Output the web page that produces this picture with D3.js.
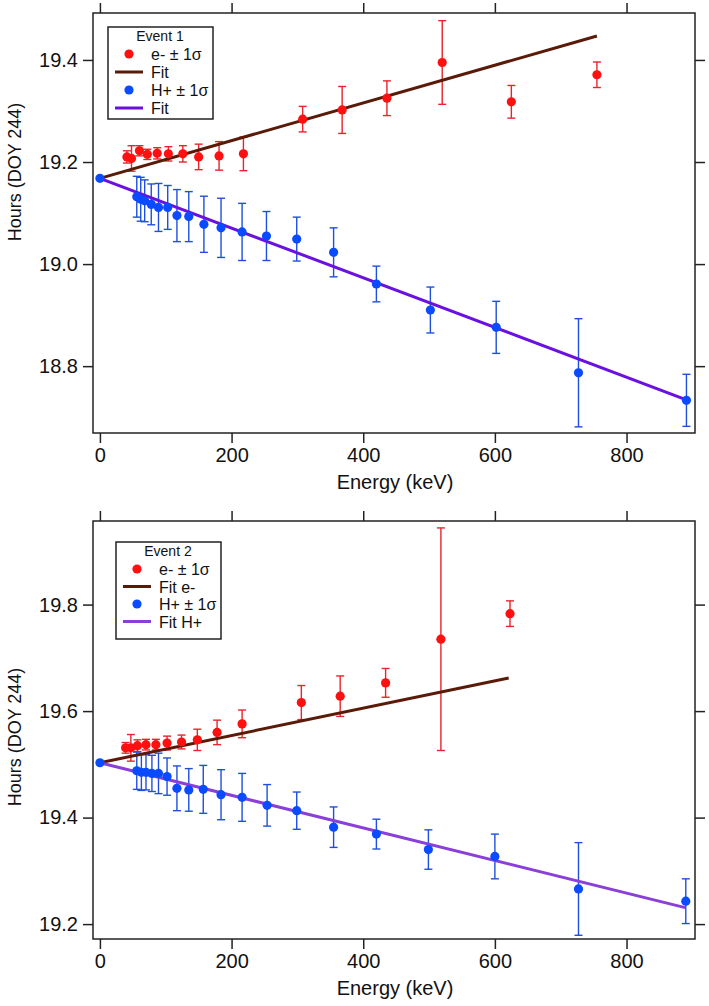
<!DOCTYPE html>
<html>
<head>
<meta charset="utf-8">
<script src="https://cdn.jsdelivr.net/npm/d3@7"></script>
<style>
  body { margin: 0; background: #fff; }
  svg { display: block; font-family: "Liberation Sans", Arial, sans-serif; }
</style>
</head>
<body>
<div id="chart"></div>
<script>
// energy ticks shared by both panels
const xTicks = [0, 200, 400, 600, 800];

// Event 1
const ev1Title = "Event 1";
const ev1ElecEnergy = [41, 48, 60, 72, 87, 104, 126, 150, 181, 218, 308, 368, 436, 520, 625, 755];
const ev1ElecHours = [19.210, 19.207, 19.222, 19.215, 19.217, 19.216, 19.216, 19.210, 19.212, 19.216, 19.284, 19.302, 19.325, 19.395, 19.318, 19.371];
const ev1ElecErr = [0.012, 0.025, 0.010, 0.010, 0.011, 0.014, 0.016, 0.025, 0.028, 0.033, 0.025, 0.046, 0.034, 0.082, 0.032, 0.025];
const ev1ProtEnergy = [0, 56, 62, 68, 78, 89, 103, 117, 135, 158, 184, 216, 253, 299, 355, 420, 502, 602, 727, 891];
const ev1ProtHours = [19.168, 19.132, 19.127, 19.124, 19.117, 19.111, 19.111, 19.095, 19.093, 19.078, 19.071, 19.063, 19.055, 19.049, 19.023, 18.961, 18.910, 18.876, 18.787, 18.733];
const ev1ProtErr = [0, 0.040, 0.043, 0.041, 0.040, 0.047, 0.043, 0.051, 0.049, 0.055, 0.058, 0.056, 0.048, 0.043, 0.048, 0.035, 0.045, 0.051, 0.106, 0.051];
const ev1ElecFitEnergy = [0, 755];
const ev1ElecFitHours = [19.168, 19.447];
const ev1ProtFitEnergy = [0, 893];
const ev1ProtFitHours = [19.168, 18.733];
const ev1YTicks = [18.8, 19.0, 19.2, 19.4];
const ev1Legend = ["e- \u00b1 1\u03c3", "Fit", "H+ \u00b1 1\u03c3", "Fit"];

// Event 2
const ev2Title = "Event 2";
const ev2ElecEnergy = [39, 47, 57, 70, 85, 102, 124, 148, 178, 216, 306, 365, 434, 518, 623];
const ev2ElecHours = [19.531, 19.531, 19.535, 19.537, 19.537, 19.540, 19.542, 19.546, 19.560, 19.576, 19.616, 19.628, 19.653, 19.735, 19.783];
const ev2ElecErr = [0.010, 0.025, 0.011, 0.010, 0.010, 0.013, 0.013, 0.020, 0.023, 0.026, 0.032, 0.038, 0.027, 0.209, 0.024];
const ev2ProtEnergy = [0, 56, 63, 70, 79, 89, 102, 117, 135, 157, 184, 216, 254, 299, 355, 420, 499, 600, 727, 890];
const ev2ProtHours = [19.503, 19.488, 19.485, 19.485, 19.483, 19.483, 19.477, 19.455, 19.452, 19.453, 19.443, 19.438, 19.423, 19.413, 19.382, 19.369, 19.340, 19.327, 19.266, 19.243];
const ev2ProtErr = [0, 0.035, 0.034, 0.033, 0.034, 0.038, 0.035, 0.042, 0.040, 0.045, 0.047, 0.045, 0.039, 0.035, 0.038, 0.028, 0.037, 0.042, 0.087, 0.042];
const ev2ElecFitEnergy = [0, 621];
const ev2ElecFitHours = [19.503, 19.662];
const ev2ProtFitEnergy = [0, 889];
const ev2ProtFitHours = [19.503, 19.231];
const ev2YTicks = [19.2, 19.4, 19.6, 19.8];
const ev2Legend = ["e- \u00b1 1\u03c3", "Fit e-", "H+ \u00b1 1\u03c3", "Fit H+"];

const width = 709;
const height = 1006;

const svg = d3.select("#chart")
  .append("svg")
  .attr("width", width)
  .attr("height", height);

function zip(xs, ys, es) {
  return xs.map((x, i) => ({ x: x, y: ys[i], e: es ? es[i] : 0 }));
}

function drawPanel(opts) {
  const left = 93, right = 695;
  const top = opts.top, bottom = opts.bottom;

  const x = d3.scaleLinear().domain([-10.5, 904]).range([left, right]);
  const y = d3.scaleLinear().domain(opts.yDomain).range([bottom, top]);

  const g = svg.append("g");

  // AXES (ticks outside on all four sides)
  const tickLen = 10;
  const axes = [
    g.append("g").attr("transform", `translate(0,${bottom})`)
      .call(d3.axisBottom(x).tickValues(xTicks).tickSize(tickLen).tickPadding(5).tickFormat(d3.format("d"))),
    g.append("g").attr("transform", `translate(0,${top})`)
      .call(d3.axisTop(x).tickValues(xTicks).tickSize(tickLen).tickFormat("")),
    g.append("g").attr("transform", `translate(${left},0)`)
      .call(d3.axisLeft(y).tickValues(opts.yTicks).tickSize(tickLen).tickPadding(5).tickFormat(d3.format(".1f"))),
    g.append("g").attr("transform", `translate(${right},0)`)
      .call(d3.axisRight(y).tickValues(opts.yTicks).tickSize(tickLen).tickFormat(""))
  ];
  axes.forEach(a => {
    a.select(".domain").remove();
    a.selectAll(".tick line").attr("stroke", "#222").attr("stroke-width", 1.5);
    a.selectAll(".tick text").attr("font-size", 20).attr("fill", "#111")
      .attr("font-family", "'Liberation Sans', Arial, sans-serif");
  });

  g.append("rect")
    .attr("x", left).attr("y", top)
    .attr("width", right - left).attr("height", bottom - top)
    .attr("fill", "none").attr("stroke", "#222").attr("stroke-width", 1.5);

  // TITLES
  g.append("text")
    .attr("x", (left + right) / 2 + 1)
    .attr("y", bottom + 56)
    .attr("text-anchor", "middle")
    .attr("font-size", 20)
    .attr("fill", "#111")
    .text("Energy (keV)");

  g.append("text")
    .attr("transform", `translate(21,${opts.yLabelCenter}) rotate(-90)`)
    .attr("text-anchor", "middle")
    .attr("font-size", 18)
    .attr("fill", "#111")
    .text("Hours (DOY 244)");

  const plot = g.append("g");

  // ERROR BARS
  const capW = 4;
  const drawErr = (data, color) => {
    const eg = plot.append("g").attr("stroke", color).attr("stroke-width", 1.4).attr("fill", "none");
    data.filter(d => d.e > 0).forEach(d => {
      const y0 = y(d.y - d.e), y1 = y(d.y + d.e), cx = x(d.x);
      eg.append("line").attr("x1", cx).attr("x2", cx).attr("y1", y0).attr("y2", y1);
      eg.append("line").attr("x1", cx - capW).attr("x2", cx + capW).attr("y1", y0).attr("y2", y0);
      eg.append("line").attr("x1", cx - capW).attr("x2", cx + capW).attr("y1", y1).attr("y2", y1);
    });
  };
  const elec = zip(opts.elecEnergy, opts.elecHours, opts.elecErr);
  const prot = zip(opts.protEnergy, opts.protHours, opts.protErr);
  drawErr(elec, "#e8242c");
  drawErr(prot, "#1f4fdc");

  // FIT LINES
  const line = d3.line().x(d => x(d.x)).y(d => y(d.y));
  plot.append("path")
    .datum(zip(opts.elecFitEnergy, opts.elecFitHours))
    .attr("d", line).attr("fill", "none")
    .attr("stroke", opts.elecFitColor).attr("stroke-width", 3);
  plot.append("path")
    .datum(zip(opts.protFitEnergy, opts.protFitHours))
    .attr("d", line).attr("fill", "none")
    .attr("stroke", opts.protFitColor).attr("stroke-width", 3);

  // POINTS
  plot.append("g").selectAll("circle").data(elec).join("circle")
    .attr("cx", d => x(d.x)).attr("cy", d => y(d.y)).attr("r", 4.6).attr("fill", "#ff1010");
  plot.append("g").selectAll("circle").data(prot).join("circle")
    .attr("cx", d => x(d.x)).attr("cy", d => y(d.y)).attr("r", 4.6).attr("fill", "#0a4bff");

  // LEGEND
  const lg = g.append("g").attr("transform", `translate(${opts.legend[0]},${opts.legend[1]})`);
  lg.append("rect")
    .attr("width", 105).attr("height", opts.legendH)
    .attr("fill", "#fff").attr("stroke", "#222").attr("stroke-width", 1.5);
  lg.append("text")
    .attr("x", 52).attr("y", 14)
    .attr("text-anchor", "middle").attr("font-size", 14).attr("fill", "#111")
    .text(opts.title);
  const swatches = [
    { type: "dot", color: "#ff1010" },
    { type: "line", color: opts.elecFitColor },
    { type: "dot", color: "#0a4bff" },
    { type: "line", color: opts.protFitColor }
  ];
  opts.legendLabels.forEach((lab, i) => {
    const ry = 27 + i * opts.legendStep;
    const sw = swatches[i];
    if (sw.type === "dot") {
      lg.append("circle").attr("cx", 21).attr("cy", ry).attr("r", 4.6).attr("fill", sw.color);
    } else {
      lg.append("line").attr("x1", 7).attr("x2", 35).attr("y1", ry).attr("y2", ry)
        .attr("stroke", sw.color).attr("stroke-width", 3);
    }
    lg.append("text")
      .attr("x", 43).attr("y", ry + 6)
      .attr("font-size", 16).attr("fill", "#111")
      .text(lab);
  });
}

drawPanel({
  top: 13, bottom: 433,
  yDomain: [18.669, 19.492],
  yTicks: ev1YTicks,
  yLabelCenter: 172,
  elecEnergy: ev1ElecEnergy, elecHours: ev1ElecHours, elecErr: ev1ElecErr,
  protEnergy: ev1ProtEnergy, protHours: ev1ProtHours, protErr: ev1ProtErr,
  elecFitEnergy: ev1ElecFitEnergy, elecFitHours: ev1ElecFitHours,
  protFitEnergy: ev1ProtFitEnergy, protFitHours: ev1ProtFitHours,
  elecFitColor: "#5a1a08", protFitColor: "#6a10e0",
  legend: [108, 27], legendH: 92, legendStep: 18,
  title: ev1Title, legendLabels: ev1Legend
});

drawPanel({
  top: 521, bottom: 939,
  yDomain: [19.172, 19.957],
  yTicks: ev2YTicks,
  yLabelCenter: 737,
  elecEnergy: ev2ElecEnergy, elecHours: ev2ElecHours, elecErr: ev2ElecErr,
  protEnergy: ev2ProtEnergy, protHours: ev2ProtHours, protErr: ev2ProtErr,
  elecFitEnergy: ev2ElecFitEnergy, elecFitHours: ev2ElecFitHours,
  protFitEnergy: ev2ProtFitEnergy, protFitHours: ev2ProtFitHours,
  elecFitColor: "#5a1a08", protFitColor: "#8a3fd9",
  legend: [116, 542], legendH: 97, legendStep: 17.5,
  title: ev2Title, legendLabels: ev2Legend
});
</script>
</body>
</html>
